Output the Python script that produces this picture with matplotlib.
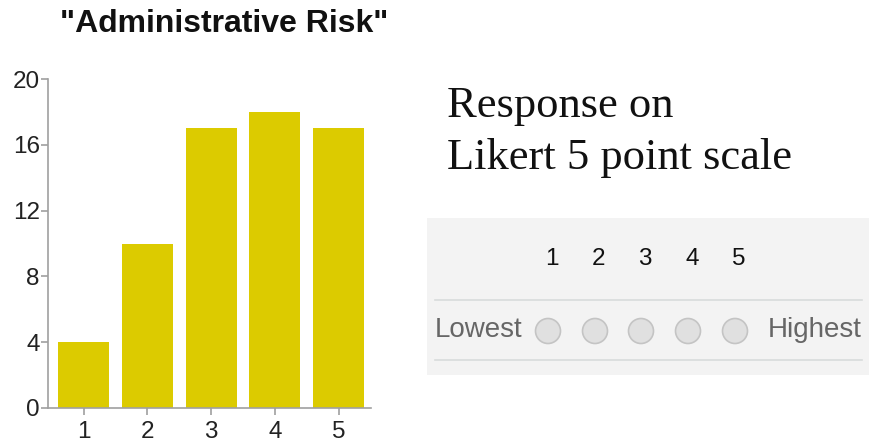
import matplotlib
matplotlib.use("Agg")
import matplotlib.pyplot as plt
from matplotlib.patches import Rectangle, Circle
from matplotlib.lines import Line2D

categories = ["1", "2", "3", "4", "5"]
counts = [4, 10, 17, 18, 17]
yticks = [0, 4, 8, 12, 16, 20]
title = '"Administrative Risk"'
scale_labels = ["1", "2", "3", "4", "5"]

W, H = 870, 445
fig = plt.figure(figsize=(W / 100, H / 100), dpi=100)
plt.rcParams['font.family'] = ['Liberation Sans', 'DejaVu Sans']

def fx(px):
    return px / W

def fy(py):
    return 1 - py / H

# bar chart axes
ax = fig.add_axes([fx(48), fy(408), fx(371) - fx(48), fy(79) - fy(408)])
x = list(range(1, len(categories) + 1))
ax.bar(x, counts, width=0.8, color='#dccb00')
ax.set_xlim(0.44, 5.51)
ax.set_ylim(0, 20)
ax.set_yticks(yticks)
ax.set_xticks(x)
ax.set_xticklabels(categories)
for s in ['top', 'right']:
    ax.spines[s].set_visible(False)
for s in ['left', 'bottom']:
    ax.spines[s].set_color('#a0a0a0')
    ax.spines[s].set_linewidth(1.2)
ax.tick_params(axis='both', colors='#a0a0a0', labelcolor='#222222', labelsize=17.5,
               length=5, width=1.2, pad=1)
ax.tick_params(axis='x', pad=4)

fig.text(fx(224), fy(24), title, ha='center', va='center', fontsize=23,
         fontweight='bold', color='#111111')

# Right text
fig.text(fx(447), fy(106), "Response on", ha='left', va='center', fontsize=32,
         family=['Liberation Serif'], color='#111111')
fig.text(fx(447), fy(158), "Likert 5 point scale", ha='left', va='center', fontsize=32,
         family=['Liberation Serif'], color='#111111')

# Gray box panel
bx = fig.add_axes([0, 0, 1, 1], zorder=-1)
bx.set_xlim(0, W)
bx.set_ylim(H, 0)
bx.axis('off')
bx.add_patch(Rectangle((427, 218), 443, 157, facecolor='#f3f3f3', edgecolor='none'))
bx.add_line(Line2D([435, 862], [300, 300], color='#d8dcdc', lw=1.2))
bx.add_line(Line2D([435, 862], [360, 360], color='#d8dcdc', lw=1.2))
cxs = [548, 595, 641, 688, 735]
for cx, lab in zip(cxs, scale_labels):
    bx.text(cx + 4, 259, lab, ha='center', va='center', fontsize=17.5, color='#111111')
    bx.add_patch(Circle((cx, 331), 12.5, facecolor='#e0e0e0', edgecolor='#c4c4c4', lw=1.2))
bx.text(435, 330, "Lowest", ha='left', va='center', fontsize=20, color='#666666')
bx.text(862, 330, "Highest", ha='right', va='center', fontsize=20, color='#666666')

fig.savefig("out.png", dpi=100)
